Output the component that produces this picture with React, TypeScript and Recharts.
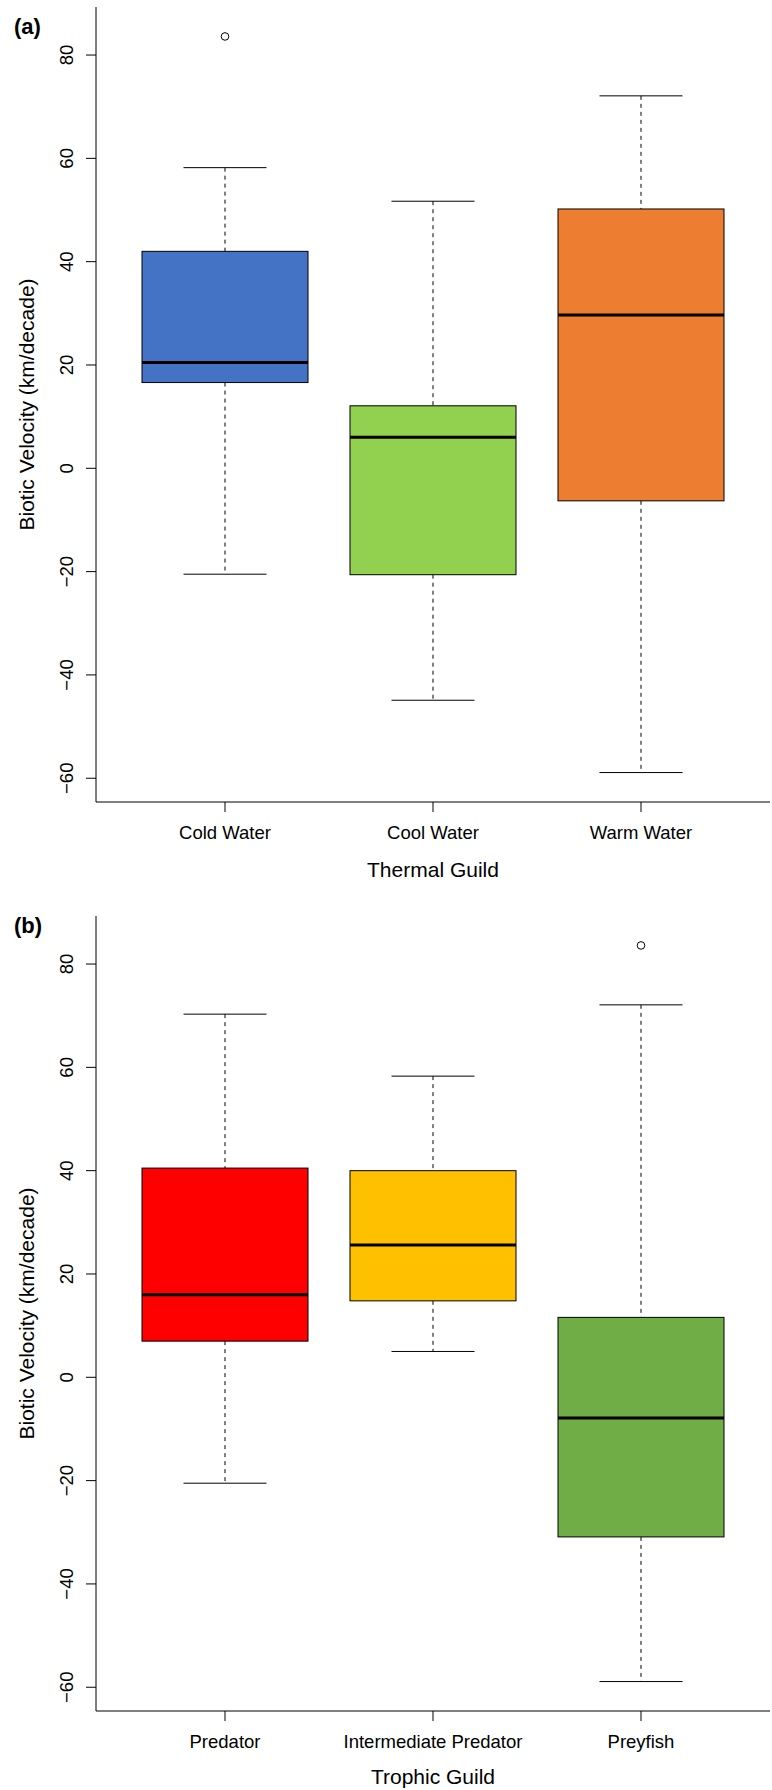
import React from 'react';
import { ComposedChart, Bar, Cell, XAxis, YAxis, Scatter, Label } from 'recharts';

// ---- Panel (a): Thermal Guild ----
const thermalCategories = ['Cold Water', 'Cool Water', 'Warm Water'];
const thermalLowerWhisker = [-20.5, -44.9, -58.9];
const thermalQ1 = [16.6, -20.6, -6.3];
const thermalMedian = [20.5, 6.0, 29.7];
const thermalQ3 = [42.0, 12.1, 50.2];
const thermalUpperWhisker = [58.2, 51.7, 72.1];
const thermalOutlierCats = ['Cold Water'];
const thermalOutlierValues = [83.6];
const thermalColors = ['#4472C4', '#92D050', '#ED7D31'];

// ---- Panel (b): Trophic Guild ----
const trophicCategories = ['Predator', 'Intermediate Predator', 'Preyfish'];
const trophicLowerWhisker = [-20.5, 5.0, -58.9];
const trophicQ1 = [7.0, 14.8, -30.9];
const trophicMedian = [16.0, 25.6, -7.9];
const trophicQ3 = [40.5, 40.0, 11.6];
const trophicUpperWhisker = [70.3, 58.3, 72.1];
const trophicOutlierCats = ['Preyfish'];
const trophicOutlierValues = [83.6];
const trophicColors = ['#FF0000', '#FFC000', '#70AD47'];

const yTicks = [-60, -40, -20, 0, 20, 40, 60, 80];
const yTitle = 'Biotic Velocity (km/decade)';

const FONT = '"Liberation Sans", Arial, Helvetica, sans-serif';

function buildRows(cats: string[], lo: number[], q1: number[], med: number[], q3: number[], hi: number[]) {
  return cats.map((cat, i) => ({ cat, lo: lo[i], q1: q1[i], median: med[i], q3: q3[i], hi: hi[i], box: [q1[i], q3[i]] }));
}

function buildOutliers(cats: string[], vals: number[]) {
  return cats.map((cat, i) => ({ cat, value: vals[i] }));
}

function paddedDomain(lo: number[], hi: number[], out: number[]): [number, number] {
  const mn = Math.min(...lo, ...out);
  const mx = Math.max(...hi, ...out);
  const r = mx - mn;
  return [mn - 0.04 * r, mx + 0.04 * r];
}

const BoxShape = (props: any) => {
  const { x, y, width, height, payload, fill } = props;
  const top = Math.min(y, y + height);
  const h = Math.abs(height);
  const { q1, q3, median, lo, hi } = payload;
  const k = h / (q3 - q1);
  const py = (v: number) => top + (q3 - v) * k;
  const cx = x + width / 2;
  const capHalf = width / 4;
  return (
    <g>
      <line x1={cx} x2={cx} y1={py(hi)} y2={top} stroke="#000" strokeWidth={1} strokeDasharray="4 4" />
      <line x1={cx} x2={cx} y1={top + h} y2={py(lo)} stroke="#000" strokeWidth={1} strokeDasharray="4 4" />
      <line x1={cx - capHalf} x2={cx + capHalf} y1={py(hi)} y2={py(hi)} stroke="#000" strokeWidth={1} />
      <line x1={cx - capHalf} x2={cx + capHalf} y1={py(lo)} y2={py(lo)} stroke="#000" strokeWidth={1} />
      <rect x={x} y={top} width={width} height={h} fill={fill} stroke="#000" strokeWidth={1} />
      <line x1={x} x2={x + width} y1={py(median)} y2={py(median)} stroke="#000" strokeWidth={3} />
    </g>
  );
};

const OutlierShape = (props: any) => {
  const { cx, cy } = props;
  return <circle cx={cx} cy={cy} r={3.8} fill="#fff" stroke="#000" strokeWidth={1} />;
};

const XTick = (props: any) => {
  const { x, y, payload } = props;
  return (
    <text x={x} y={y + 27} textAnchor="middle" fontSize={18.5} fontFamily={FONT} fill="#000">
      {payload.value}
    </text>
  );
};

const YTick = (props: any) => {
  const { x, y, payload } = props;
  const bx = x - 12.5;
  const label = String(payload.value).replace('-', '\u2212');
  return (
    <text x={bx} y={y} transform={`rotate(-90, ${bx}, ${y})`} textAnchor="middle" fontSize={18.5} fontFamily={FONT} fill="#000">
      {label}
    </text>
  );
};

type PanelProps = {
  rows: any[];
  outliers: any[];
  colors: string[];
  domain: [number, number];
  xTitle: string;
  height: number;
  xAxisHeight: number;
  titleOffset: number;
};

function Panel({ rows, outliers, colors, domain, xTitle, height, xAxisHeight, titleOffset }: PanelProps) {
  return (
    <ComposedChart width={772} height={height} data={rows} margin={{ top: 7, right: 2, bottom: 0, left: 0 }}>
      <XAxis
        dataKey="cat"
        type="category"
        allowDuplicatedCategory={false}
        padding={{ left: 25, right: 25 }}
        height={xAxisHeight}
        tickSize={10}
        tickMargin={0}
        axisLine={{ stroke: '#000', strokeWidth: 1 }}
        tickLine={{ stroke: '#000', strokeWidth: 1 }}
        tick={<XTick />}
        interval={0}
      >
        <Label
          content={(p: any) => {
            const vb = p.viewBox;
            return (
              <text x={vb.x + vb.width / 2} y={vb.y + titleOffset} textAnchor="middle" fontSize={21} fontFamily={FONT} fill="#000">
                {xTitle}
              </text>
            );
          }}
        />
      </XAxis>
      <XAxis
        xAxisId="top"
        orientation="top"
        dataKey="cat"
        allowDuplicatedCategory={false}
        height={0}
        tick={false}
        tickLine={false}
        axisLine={{ stroke: '#000', strokeWidth: 1 }}
      />
      <YAxis
        type="number"
        domain={domain}
        allowDataOverflow
        ticks={yTicks}
        width={96}
        tickSize={10}
        tickMargin={0}
        axisLine={{ stroke: '#000', strokeWidth: 1 }}
        tickLine={{ stroke: '#000', strokeWidth: 1 }}
        tick={<YTick />}
        interval={0}
      >
        <Label
          content={(p: any) => {
            const vb = p.viewBox;
            const tx = vb.x + 34;
            const ty = vb.y + vb.height / 2;
            return (
              <text x={tx} y={ty} transform={`rotate(-90, ${tx}, ${ty})`} textAnchor="middle" fontSize={21} fontFamily={FONT} fill="#000">
                {yTitle}
              </text>
            );
          }}
        />
      </YAxis>
      <YAxis
        yAxisId="right"
        orientation="right"
        type="number"
        domain={domain}
        allowDataOverflow
        width={0}
        tick={false}
        tickLine={false}
        axisLine={{ stroke: '#000', strokeWidth: 1 }}
      />
      <Bar dataKey="box" barSize={166} shape={<BoxShape />} isAnimationActive={false}>
        {rows.map((r, i) => (
          <Cell key={r.cat} fill={colors[i]} />
        ))}
      </Bar>
      <Scatter data={outliers} dataKey="value" shape={<OutlierShape />} isAnimationActive={false} />
    </ComposedChart>
  );
}

export default function App() {
  const rowsA = buildRows(thermalCategories, thermalLowerWhisker, thermalQ1, thermalMedian, thermalQ3, thermalUpperWhisker);
  const rowsB = buildRows(trophicCategories, trophicLowerWhisker, trophicQ1, trophicMedian, trophicQ3, trophicUpperWhisker);
  const outA = buildOutliers(thermalOutlierCats, thermalOutlierValues);
  const outB = buildOutliers(trophicOutlierCats, trophicOutlierValues);
  const domA = paddedDomain(thermalLowerWhisker, thermalUpperWhisker, thermalOutlierValues);
  const domB = paddedDomain(trophicLowerWhisker, trophicUpperWhisker, trophicOutlierValues);
  return (
    <div style={{ position: 'absolute', left: 0, top: 0, width: 772, height: 1790, background: '#fff', overflow: 'hidden' }}>
      <div style={{ position: 'absolute', left: 0, top: 0 }}>
        <Panel rows={rowsA} outliers={outA} colors={thermalColors} domain={domA} xTitle="Thermal Guild" height={900} xAxisHeight={98} titleOffset={75} />
      </div>
      <div style={{ position: 'absolute', left: 0, top: 909 }}>
        <Panel rows={rowsB} outliers={outB} colors={trophicColors} domain={domB} xTitle="Trophic Guild" height={881} xAxisHeight={79} titleOffset={73} />
      </div>
      <svg width={772} height={1790} style={{ position: 'absolute', left: 0, top: 0, pointerEvents: 'none' }}>
        <text x={14} y={34} fontSize={22} fontWeight="bold" fontFamily={FONT} fill="#000">(a)</text>
        <text x={14} y={933} fontSize={22} fontWeight="bold" fontFamily={FONT} fill="#000">(b)</text>
      </svg>
    </div>
  );
}
